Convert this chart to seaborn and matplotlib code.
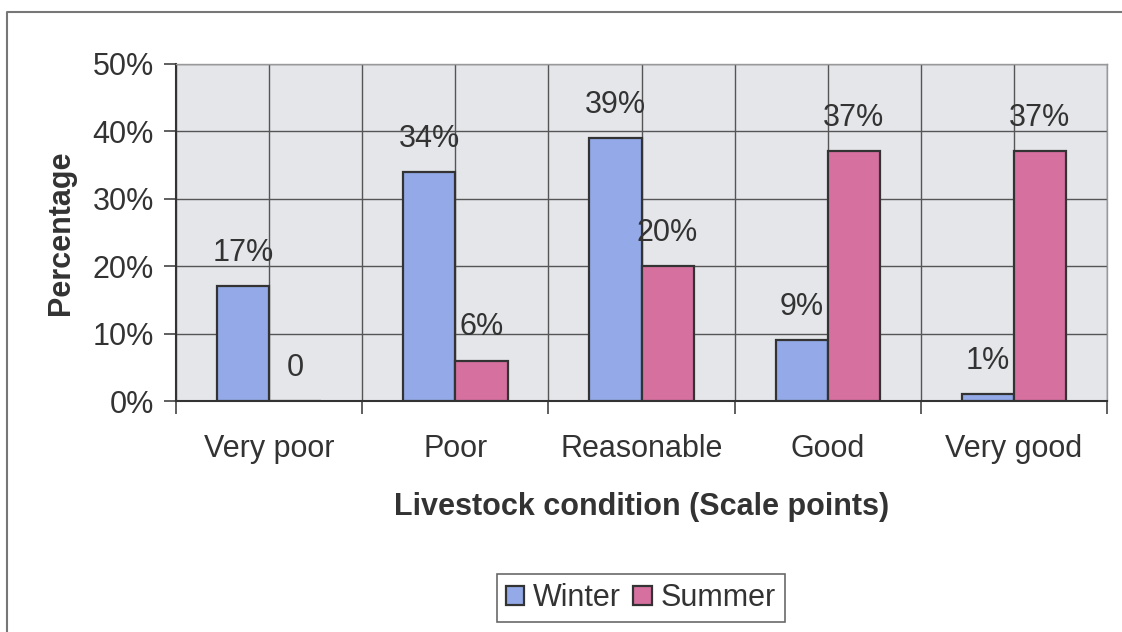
import pandas as pd
import matplotlib.pyplot as plt
import seaborn as sns
from matplotlib.lines import Line2D

categories = ["Very poor", "Poor", "Reasonable", "Good", "Very good"]
winter = [17, 34, 39, 9, 1]
summer = [0, 6, 20, 37, 37]
winter_labels = ["17%", "34%", "39%", "9%", "1%"]
summer_labels = ["0", "6%", "20%", "37%", "37%"]
yticks = [0, 10, 20, 30, 40, 50]

df = pd.DataFrame({
    "condition": categories * 2,
    "value": winter + summer,
    "season": ["Winter"] * len(categories) + ["Summer"] * len(categories),
})

sns.set_theme(style="white")
plt.rcParams["font.family"] = ["Liberation Sans", "DejaVu Sans"]
FS = 22

fig = plt.figure(figsize=(11.22, 6.32), dpi=100)
ax = fig.add_axes([0.157, 0.3655, 0.8296, 0.5335])
ax.set_facecolor("#e4e6e9")

sns.barplot(data=df, x="condition", y="value", hue="season",
            palette={"Winter": "#93a9e8", "Summer": "#d6709f"},
            width=0.56, gap=0, edgecolor="#333333", linewidth=1.6,
            saturation=1, ax=ax, zorder=3, legend=True)

for cont, labs in zip(ax.containers, [winter_labels, summer_labels]):
    ax.bar_label(cont, labels=labs, padding=13, fontsize=FS, color="#333333")

ax.set_ylim(0, 50)
ax.set_xlim(-0.5, len(categories) - 0.5)
ax.set_yticks(yticks)
ax.set_yticklabels([f"{t}%" for t in yticks], fontsize=FS, color="#333333")
ax.set_xticks(range(len(categories)))
ax.set_xticklabels(categories, fontsize=FS, color="#333333")
ax.set_xticks([i - 0.5 for i in range(len(categories) + 1)], minor=True)

ax.tick_params(axis="x", which="major", length=0, pad=24)
ax.tick_params(axis="x", which="minor", length=9, width=1.2, color="#444444", bottom=True)
ax.tick_params(axis="y", length=9, width=1.2, color="#444444", left=True, pad=7)

ax.grid(True, axis="y", which="major", color="#555555", linewidth=1, zorder=0)
ax.grid(True, axis="x", which="both", color="#555555", linewidth=1, zorder=0)
ax.set_axisbelow(True)

for side in ["left", "bottom"]:
    ax.spines[side].set_color("#333333")
    ax.spines[side].set_linewidth(1.5)
for side in ["top", "right"]:
    ax.spines[side].set_color("#999999")
    ax.spines[side].set_linewidth(1)

ax.set_ylabel("Percentage", fontsize=FS, fontweight="bold", color="#333333", labelpad=12)
ax.set_xlabel("Livestock condition (Scale points)", fontsize=FS, fontweight="bold",
              color="#333333", labelpad=20)

handles, labels = ax.get_legend_handles_labels()
ax.get_legend().remove()
leg = fig.legend(handles, labels, loc="center", bbox_to_anchor=(641 / 1122, 1 - 598 / 632),
                 ncol=2, fontsize=FS, frameon=True, fancybox=False,
                 handlelength=0.6, handleheight=0.6, handletextpad=0.3,
                 columnspacing=0.4, borderpad=0.3)
leg.get_frame().set_edgecolor("#444444")
leg.get_frame().set_linewidth(1.2)
for t in leg.get_texts():
    t.set_color("#333333")

# outer chart frame, only top and left edges are in view
fig.add_artist(Line2D([7 / 1122, 7 / 1122, 1.0], [0.0, 1 - 12 / 632, 1 - 12 / 632],
                      transform=fig.transFigure, color="#777777", linewidth=1.5))

fig.savefig("out.png", dpi=100)
